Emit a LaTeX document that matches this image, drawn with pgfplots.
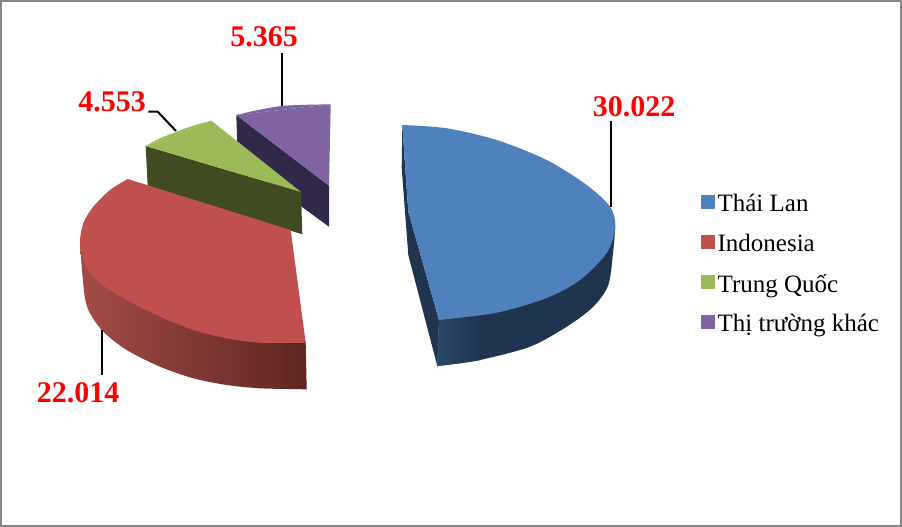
\documentclass[border=0pt]{standalone}
\usepackage{fontspec}
\setmainfont{Liberation Serif}
\usepackage{pgfplots}
\pgfplotsset{compat=1.18}
\definecolor{cblue}{HTML}{4F81BD}
\definecolor{cred}{HTML}{C0504D}
\definecolor{cgreen}{HTML}{9BBB59}
\definecolor{cpurple}{HTML}{8064A2}
\definecolor{bluedark}{HTML}{1F344F}
\definecolor{bluemid}{HTML}{2A4768}
\definecolor{reddark}{HTML}{5E2624}
\definecolor{redmid}{HTML}{A34B46}
\definecolor{greendark}{HTML}{404B22}
\definecolor{purpledark}{HTML}{32284A}
\definecolor{framegray}{HTML}{868686}
\begin{document}
\begin{tikzpicture}
\begin{axis}[
  scale only axis, width=902pt, height=527pt,
  xmin=0, xmax=902, ymin=0, ymax=527, y dir=reverse,
  hide axis, clip=false,
  legend style={at={(axis cs:701,192)}, anchor=north west, draw=none, fill=none,
    font=\fontsize{25}{27}\selectfont, row sep=17pt, inner sep=0pt},
  legend cell align=left,
  legend image code/.code={\fill[#1] (0pt,-4.5pt) rectangle (12.5pt,8.5pt);\path (14pt,0pt);},
]
% frame
\addplot[draw=framegray, line width=2pt, fill=white, forget plot] coordinates {(1,1)(901,1)(901,526)(1,526)} -- cycle;
% legend swatches
\addlegendimage{cblue}\addlegendentry{Thái Lan}
\addlegendimage{cred}\addlegendentry{Indonesia}
\addlegendimage{cgreen}\addlegendentry{Trung Quốc}
\addlegendimage{cpurple}\addlegendentry{Thị trường khác}
% purple slice
\addplot[fill=purpledark, draw=none, forget plot] coordinates {(236.3,115)(237.7,160)(329,226.7)(329,185.7)} -- cycle;
\addplot[fill=cpurple, draw=none, forget plot] coordinates {(236.3,115)(330.7,104.3)(329,185.7)} -- cycle;
\addplot[fill=cpurple, draw=none, smooth, forget plot] coordinates {(236.3,115)(258,110)(281.7,106)(306,104.8)(330.7,104.3)};
% green slice
\addplot[fill=greendark, draw=none, forget plot] coordinates {(145.7,146)(147.7,186.7)(302.3,234.3)(301,192)} -- cycle;
\addplot[fill=cgreen, draw=none, forget plot] coordinates {(145.7,146)(211.3,120.7)(301,192)} -- cycle;
\addplot[fill=cgreen, draw=none, smooth, forget plot] coordinates {(145.7,146)(160,138.3)(176.7,131.7)(193.3,125.7)(211.3,120.7)};
% blue slice
\addplot[fill=bluedark, draw=none, forget plot] coordinates {(402.3,125)(401.7,168)(408.3,255)(437.3,366)(439,320)(408.3,211.7)} -- cycle;
\addplot[fill=bluedark, draw=none, smooth, forget plot] coordinates {(615.3,226.7)(613,253)(608.3,285)(593.3,306.7)(566.7,326.7)(530,346.7)(480,360)(450,364.5)(439,365.9)(437.6,366)(437.4,365.9)(437.4,365.7)(439,320.2)(439,320)};
\addplot[left color=bluemid, right color=bluedark, draw=none, forget plot] coordinates {(439,320)(468,317.5)(481,315)(481,360)(460,363.3)(437.3,366)} -- cycle;
\addplot[fill=cblue, draw=none, forget plot] coordinates {(402.3,125)(470,220)(439,320)(408.3,211.7)} -- cycle;
\addplot[fill=cblue, draw=none, smooth, forget plot] coordinates {(402.3,125)(446.7,128.3)(496.7,140)(546.7,160)(586.7,185)(610,206.7)(615.3,226.7)(606.7,253)(580,280)(546.7,298)(496.7,312.7)(439,320)};
% red slice
\addplot[left color=redmid, right color=reddark, draw=none, smooth, forget plot] coordinates {(80,243.3)(82,270)(85,298.3)(90,313.3)(103.3,331.7)(126.7,350)(160,366.7)(193.3,378.3)(226.7,385)(260,388.3)(295,389.1)(305,389.3)(306.5,389.3)(306.7,389.2)(306.7,389)(305.7,343)(305.7,342.7)};
\addplot[fill=cred, draw=none, forget plot] coordinates {(127.7,179)(290.7,230)(305.7,342.7)(200,270)} -- cycle;
\addplot[fill=cred, draw=none, smooth, forget plot] coordinates {(305.7,342.7)(260,342.7)(226.7,338.3)(193.3,330)(160,316.7)(126.7,300)(100,283.3)(85,265)(80,243.3)(83.3,223.3)(93.3,206.7)(110,190)(127.7,179)};
% leader lines
\addplot[black, line width=2pt, forget plot] coordinates {(610.7,120.5)(610.7,207)};
\addplot[black, line width=2pt, forget plot] coordinates {(102,330)(102,375)};
\addplot[black, line width=2pt, forget plot] coordinates {(148.3,111.7)(157.7,111.7)(176,131)};
\addplot[black, line width=2pt, forget plot] coordinates {(281.7,53.3)(281.7,106)};
% data labels
\node[anchor=base, red, font=\fontsize{30}{32}\selectfont\bfseries, inner sep=0pt] at (axis cs:634,116.5) {30.022};
\node[anchor=base, red, font=\fontsize{30}{32}\selectfont\bfseries, inner sep=0pt] at (axis cs:78,402.5) {22.014};
\node[anchor=base, red, font=\fontsize{30}{32}\selectfont\bfseries, inner sep=0pt] at (axis cs:112,111.7) {4.553};
\node[anchor=base, red, font=\fontsize{30}{32}\selectfont\bfseries, inner sep=0pt] at (axis cs:264,46.7) {5.365};
\end{axis}
\end{tikzpicture}
\end{document}
